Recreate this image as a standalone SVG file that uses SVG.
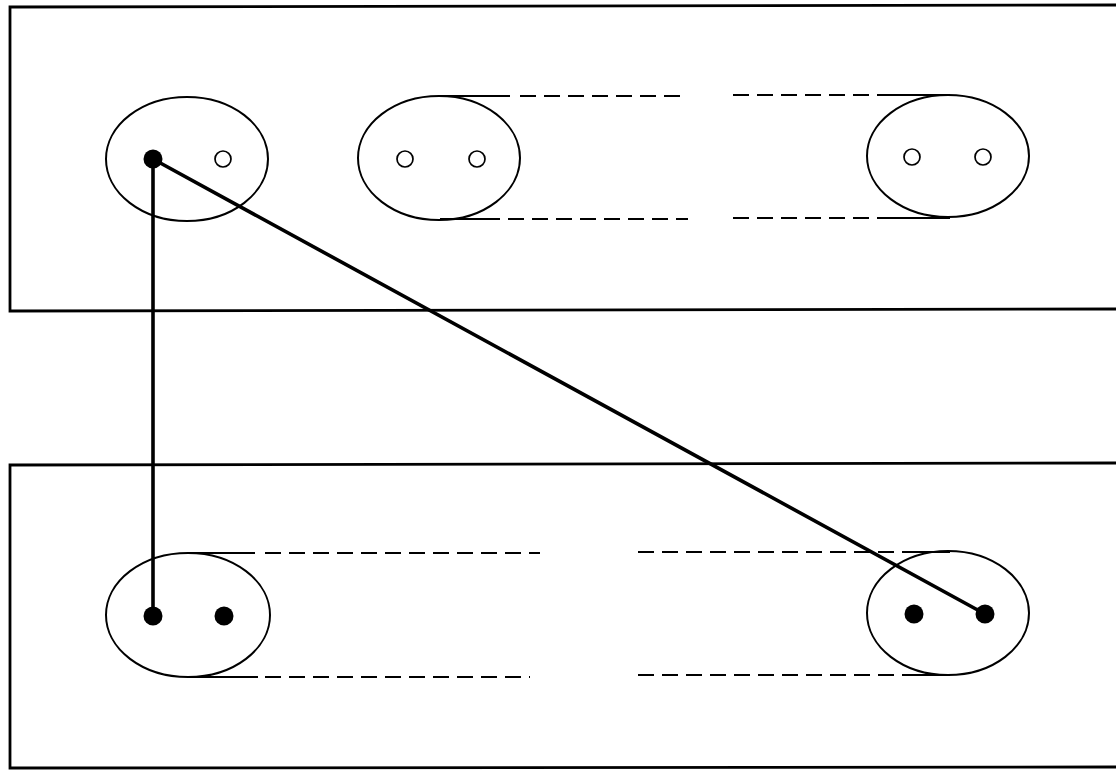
<svg xmlns="http://www.w3.org/2000/svg" width="1116" height="771" viewBox="0 0 1116 771">
<style>
.frame{fill:none;stroke:#000;stroke-width:2.8}
.ell{fill:none;stroke:#000;stroke-width:2}
.open{fill:#fff;stroke:#000;stroke-width:1.7}
.dot{fill:#000}
.solid{stroke:#000;stroke-width:1.8;fill:none}
.dash{stroke:#000;stroke-width:1.8;fill:none;stroke-dasharray:16 8}
.wire{stroke:#000;stroke-width:3.6;fill:none;stroke-linecap:round}
</style>
<rect width="1116" height="771" fill="#fff"/>
<g id="upper-panel">
  <polyline class="frame" points="1120,5 10,7 10,311 1120,309"/>
</g>
<g id="lower-panel">
  <polyline class="frame" points="1120,463 10,465 10,768 1120,767"/>
</g>
<g id="upper-band">
  <line class="solid" x1="440" y1="96" x2="510" y2="96"/>
  <line class="dash" x1="520" y1="96" x2="685" y2="96"/>
  <line class="dash" x1="733" y1="95" x2="900" y2="95"/>
  <line class="solid" x1="890" y1="95" x2="950" y2="95"/>
  <line class="solid" x1="440" y1="219" x2="500" y2="219"/>
  <line class="dash" x1="508" y1="219" x2="688" y2="219"/>
  <line class="dash" x1="733" y1="218" x2="900" y2="218"/>
  <line class="solid" x1="890" y1="218" x2="950" y2="218"/>
</g>
<g id="lower-band">
  <line class="solid" x1="188" y1="553" x2="255" y2="553"/>
  <line class="dash" x1="265" y1="553" x2="540" y2="553"/>
  <line class="dash" x1="638" y1="552" x2="920" y2="552"/>
  <line class="solid" x1="910" y1="552" x2="950" y2="552"/>
  <line class="solid" x1="188" y1="677" x2="258" y2="677"/>
  <line class="dash" x1="265" y1="677" x2="530" y2="677"/>
  <line class="dash" x1="638" y1="675" x2="920" y2="675"/>
  <line class="solid" x1="910" y1="675" x2="950" y2="675"/>
</g>
<g id="node-u1">
  <ellipse class="ell" cx="187" cy="159" rx="81" ry="62"/>
  <circle class="open" cx="223" cy="159" r="8"/>
</g>
<g id="node-u2">
  <ellipse class="ell" cx="439" cy="158" rx="81" ry="62"/>
  <circle class="open" cx="405" cy="159" r="8"/>
  <circle class="open" cx="477" cy="159" r="8"/>
</g>
<g id="node-u3">
  <ellipse class="ell" cx="948" cy="156" rx="81" ry="61"/>
  <circle class="open" cx="912" cy="157" r="8"/>
  <circle class="open" cx="983" cy="157" r="8"/>
</g>
<g id="node-l1">
  <ellipse class="ell" cx="188" cy="615" rx="82" ry="62"/>
  <circle class="dot" cx="224" cy="616" r="9.5"/>
</g>
<g id="node-l2">
  <ellipse class="ell" cx="948" cy="613" rx="81" ry="62"/>
  <circle class="dot" cx="914" cy="614" r="9.5"/>
</g>
<g id="connectors">
  <line class="wire" x1="153" y1="159" x2="153" y2="616"/>
  <line class="wire" x1="153" y1="159" x2="985" y2="614"/>
  <circle class="dot" cx="153" cy="159" r="9.5"/>
  <circle class="dot" cx="153" cy="616" r="9.5"/>
  <circle class="dot" cx="985" cy="614" r="9.5"/>
</g>
</svg>
